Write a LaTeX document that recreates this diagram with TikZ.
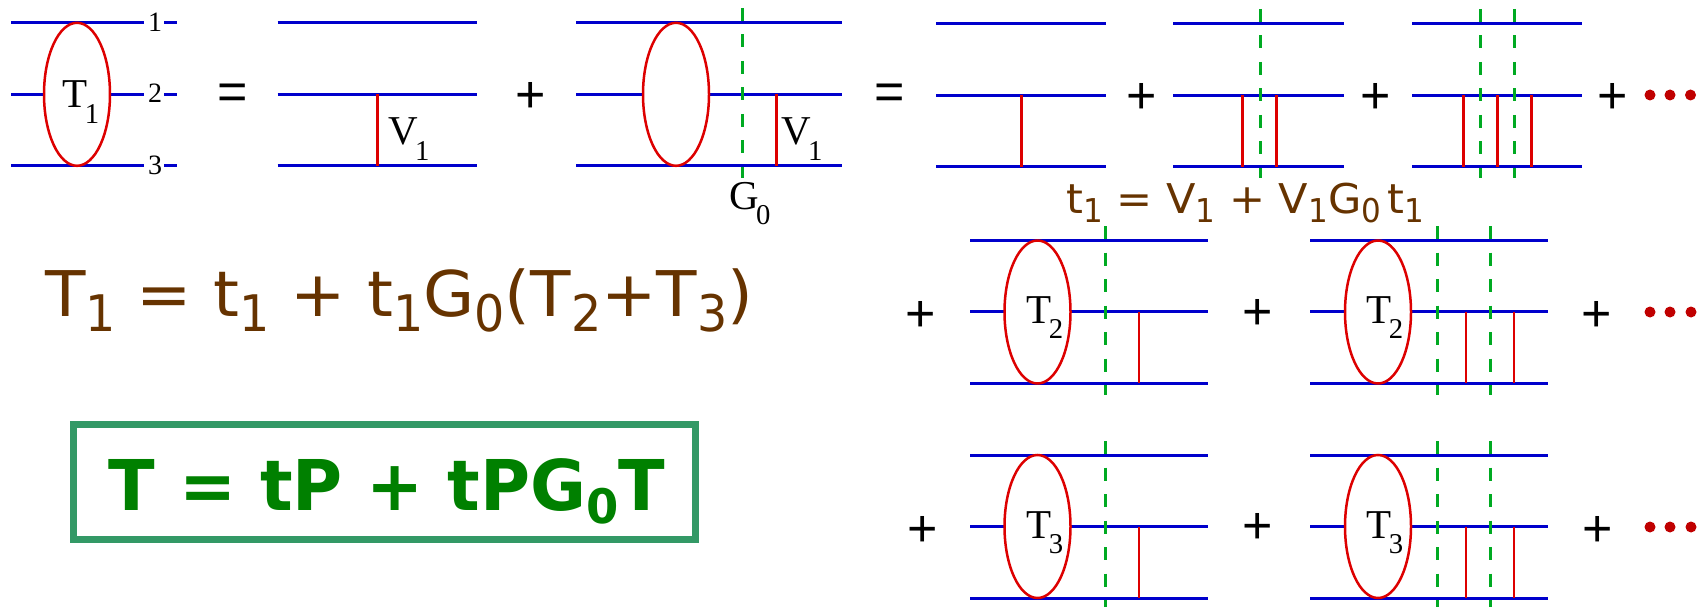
\documentclass[tikz,border=0pt]{standalone}
\usepackage{fontspec}
\setmainfont{Liberation Serif}
\newfontfamily\eqfont[FakeStretch=1.05]{DejaVu Sans}
\newfontfamily\boxfont[FakeStretch=0.975]{DejaVu Sans Bold}
\newfontfamily\signfont{Liberation Sans}
\usepackage{tikz}
\usetikzlibrary{shapes.geometric,positioning}
\definecolor{wireblue}{HTML}{0000CC}
\definecolor{potred}{HTML}{DD0000}
\definecolor{cutgreen}{HTML}{00AA22}
\definecolor{eqbrown}{HTML}{663300}
\definecolor{boxgreen}{HTML}{339966}
\definecolor{eqgreen}{HTML}{008000}
\definecolor{dotred}{HTML}{C00000}
\newcommand{\lowsub}[1]{\raisebox{-.24em}{\scalebox{.72}[.8]{#1}}}
\newcommand{\boldsub}[1]{\raisebox{-.19em}{\scalebox{.68}{#1}}}
\newcommand{\romsub}[1]{\kern-.07em\raisebox{-.38em}{\scalebox{.7}{#1}}}
\begin{document}
\begin{tikzpicture}[
  x=1pt, y=-1pt,
  wire/.style={wireblue, line width=3pt},
  pot/.style={potred, line width=2.3pt},
  potthin/.style={potred, line width=2pt},
  cut/.style={cutgreen, line width=2.6pt, dash pattern=on 13pt off 13.5pt},
  blob/.style={ellipse, draw=potred, line width=2.5pt, fill=white, minimum width=66pt, minimum height=143pt, inner sep=0pt},
  lab/.style={anchor=base, inner sep=0pt, font=\fontsize{41}{41}\selectfont},
  num/.style={anchor=base, inner sep=0pt, font=\fontsize{28}{28}\selectfont},
  sign/.style={inner sep=0pt, yshift=-3pt, font=\signfont\fontsize{52}{52}\selectfont},
  dot/.style={circle, fill=dotred, minimum size=11pt, inner sep=0pt},
  eq/.style={anchor=base west, inner sep=0pt, text=eqbrown}
]
\useasboundingbox (0,0) rectangle (1706,607);
% first row
\draw[wire] (11,22.7)--(144,22.7) (11,94.3)--(144,94.3) (11,166)--(144,166);
\draw[wire] (164,22.7)--(177,22.7) (164,94.3)--(177,94.3) (164,166)--(177,166);
\node[blob] (t1) at (77,94.3) {};
\node[lab] (t1lab) at (81,108) {T\romsub{1}};
\node[num] (n1) at (155,32) {1};
\node[num] (n2) at (155,103) {2};
\node[num] (n3) at (155,175) {3};
\node[sign] (eqa) at (232.5,94) {=};
\draw[wire] (277.5,22.7)--(477,22.7) (277.5,94.3)--(477,94.3) (277.5,166)--(477,166);
\draw[pot] (377.5,94.3)--(377.5,166);
\node[lab] (v1a) at (409,145) {V\romsub{1}};
\node[sign] (pa) at (531,94) {+};
\draw[wire] (576.4,22.7)--(842,22.7) (576.4,94.3)--(842,94.3) (576.4,166)--(842,166);
\node[blob] (t1e) at (676,94.3) {};
\draw[cut] (742.5,8)--(742.5,178);
\draw[pot] (776.5,94.3)--(776.5,166);
\node[lab] (v1b) at (802,145) {V\romsub{1}};
\node[lab] (g0) at (750,209) {G\romsub{0}};
\node[sign] (eqb) at (890,94) {=};
\draw[wire] (936,23.7)--(1106,23.7) (936,95.3)--(1106,95.3) (936,166.7)--(1106,166.7);
\draw[pot] (1021.5,95.3)--(1021.5,166.7);
\node[sign] (pb) at (1142,95) {+};
\draw[wire] (1173.4,23.7)--(1343.5,23.7) (1173.4,95.3)--(1343.5,95.3) (1173.4,166.7)--(1343.5,166.7);
\draw[pot] (1242.5,95.3)--(1242.5,166.7) (1276.5,95.3)--(1276.5,166.7);
\draw[cut] (1260.5,9)--(1260.5,178);
\node[sign] (pc) at (1376,95) {+};
\draw[wire] (1412,23.7)--(1582,23.7) (1412,95.3)--(1582,95.3) (1412,166.7)--(1582,166.7);
\draw[pot] (1463.5,95.3)--(1463.5,166.7) (1497.5,95.3)--(1497.5,166.7) (1531.5,95.3)--(1531.5,166.7);
\draw[cut] (1480.5,9)--(1480.5,178) (1514.5,9)--(1514.5,178);
\node[sign] (pd) at (1613,95) {+};
\node[dot] (da) at (1650,95) {};
\node[dot] (db) at (1670,95) {};
\node[dot] (dc) at (1690.5,95) {};
% equations
\node[eq, font=\eqfont\fontsize{41}{41}\selectfont] (teq) at (1066,213) {t\lowsub{1} = V\lowsub{1} + V\lowsub{1}G\lowsub{0}\,t\lowsub{1}};
\node[eq, font=\eqfont\fontsize{63}{63}\selectfont] (beq) at (45,316.7) {T\lowsub{1} = t\lowsub{1} + t\lowsub{1}G\lowsub{0}(T\lowsub{2}+T\lowsub{3})};
\node[draw=boxgreen, line width=7pt, minimum width=622pt, minimum height=115pt, inner sep=0pt] (box) at (384.5,482) {};
\node[eq, text=eqgreen, font=\boxfont\fontsize{70}{70}\selectfont] (geq) at (108.7,510) {T = tP + tPG\boldsub{0}T};
% second row
\node[sign] (pe) at (921,313) {+};
\draw[wire] (970,240.7)--(1208,240.7) (970,311.7)--(1208,311.7) (970,383.3)--(1208,383.3);
\node[blob] (t2a) at (1037.5,312) {};
\node[lab] (t2alab) at (1045,323) {T\romsub{2}};
\draw[cut] (1105.5,226)--(1105.5,395);
\draw[potthin] (1139,311.7)--(1139,383.3);
\node[sign] (pf) at (1258,311.7) {+};
\draw[wire] (1310,240.7)--(1548,240.7) (1310,311.7)--(1548,311.7) (1310,383.3)--(1548,383.3);
\node[blob] (t2b) at (1378,312) {};
\node[lab] (t2blab) at (1385,323) {T\romsub{2}};
\draw[cut] (1437.5,226)--(1437.5,395) (1490.5,226)--(1490.5,395);
\draw[potthin] (1466,311.7)--(1466,383.3) (1514,311.7)--(1514,383.3);
\node[sign] (pg) at (1596.5,313) {+};
\node[dot] (dd) at (1650,312) {};
\node[dot] (de) at (1670,312) {};
\node[dot] (df) at (1691,312) {};
% third row
\node[sign] (ph) at (923,528) {+};
\draw[wire] (970,455)--(1208,455) (970,526.7)--(1208,526.7) (970,598)--(1208,598);
\node[blob] (t3a) at (1037.5,526.5) {};
\node[lab] (t3alab) at (1045,538) {T\romsub{3}};
\draw[cut] (1105.5,441)--(1105.5,607);
\draw[potthin] (1139,526.7)--(1139,598);
\node[sign] (pi) at (1258,525) {+};
\draw[wire] (1310,455)--(1548,455) (1310,526.7)--(1548,526.7) (1310,598)--(1548,598);
\node[blob] (t3b) at (1378,526.5) {};
\node[lab] (t3blab) at (1385,538) {T\romsub{3}};
\draw[cut] (1437.5,441)--(1437.5,607) (1490.5,441)--(1490.5,607);
\draw[potthin] (1466,526.7)--(1466,598) (1514,526.7)--(1514,598);
\node[sign] (pj) at (1597.5,528) {+};
\node[dot] (dg) at (1650,527) {};
\node[dot] (dh) at (1670,527) {};
\node[dot] (dj) at (1691,527) {};
\end{tikzpicture}
\end{document}
